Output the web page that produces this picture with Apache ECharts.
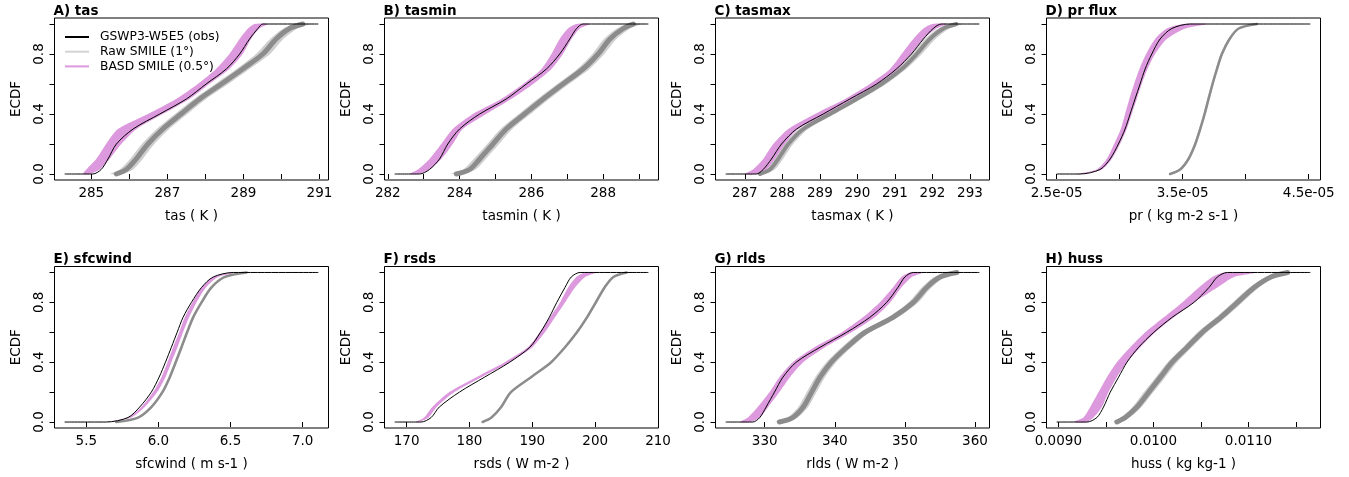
<!DOCTYPE html>
<html>
<head>
<meta charset="utf-8">
<title>ECDF panels</title>
<script src="https://cdn.jsdelivr.net/npm/echarts@6/dist/echarts.min.js"></script>
<style>
  html, body { margin: 0; padding: 0; background: #fff; }
  #main { width: 1349px; height: 477px; }
</style>
</head>
<body>
<div id="main"></div>
<script>
// ECDF levels shared by every curve (x values below are read at these levels)
var levels = [0, 0.03, 0.1, 0.2, 0.3, 0.4, 0.5, 0.6, 0.7, 0.8, 0.9, 0.97, 1];
var yTicks = [0, 0.2, 0.4, 0.6, 0.8, 1.0];
var yLabels = [0, 0.4, 0.8];

// A) tas
var tasRange = [284.3, 290.97];
var tasObs = [285.04, 285.26, 285.44, 285.66, 286.1, 286.8, 287.5, 288.02, 288.55, 288.9, 289.16, 289.38, 289.51];
var tasBasdLo = [284.78, 284.87, 285.13, 285.39, 285.7, 286.49, 287.23, 287.8, 288.28, 288.63, 288.9, 289.12, 289.29];
var tasBasdHi = [284.96, 285.22, 285.48, 285.79, 286.19, 286.88, 287.58, 288.1, 288.63, 288.98, 289.2, 289.42, 289.64];
var tasRawLo = [285.5, 285.75, 286.02, 286.33, 286.72, 287.2, 287.7, 288.26, 288.82, 289.33, 289.7, 290.05, 290.4];
var tasRawMid = [285.66, 285.92, 286.18, 286.49, 286.88, 287.36, 287.85, 288.42, 288.98, 289.51, 289.86, 290.21, 290.56];
var tasRawHi = [285.82, 286.1, 286.35, 286.66, 287.05, 287.53, 288.02, 288.6, 289.16, 289.7, 290.05, 290.42, 290.75];
var tasTicks = [285, 286, 287, 288, 289, 290, 291];
var tasLabels = [285, 287, 289, 291];

// B) tasmin
var tasminRange = [282.19, 289.26];
var tasminObs = [282.88, 283.16, 283.44, 283.67, 284.0, 284.56, 285.3, 285.86, 286.42, 286.79, 287.07, 287.26, 287.44];
var tasminBasdLo = [282.6, 282.84, 283.16, 283.49, 283.81, 284.37, 285.16, 285.77, 286.28, 286.56, 286.79, 287.02, 287.26];
var tasminBasdHi = [282.84, 283.16, 283.49, 283.81, 284.09, 284.74, 285.44, 286.05, 286.56, 286.88, 287.12, 287.35, 287.63];
var tasminRawLo = [283.75, 284.1, 284.39, 284.77, 285.14, 285.65, 286.17, 286.72, 287.28, 287.7, 288.02, 288.38, 288.68];
var tasminRawMid = [283.91, 284.28, 284.56, 284.93, 285.3, 285.81, 286.33, 286.88, 287.44, 287.86, 288.19, 288.56, 288.84];
var tasminRawHi = [284.08, 284.45, 284.73, 285.1, 285.47, 285.98, 286.5, 287.05, 287.62, 288.03, 288.37, 288.75, 289.05];
var tasminTicks = [282, 283, 284, 285, 286, 287, 288, 289];
var tasminLabels = [282, 284, 286, 288];

// C) tasmax
var tasmaxRange = [286.49, 293.25];
var tasmaxObs = [287.31, 287.49, 287.71, 287.98, 288.38, 289.09, 289.8, 290.51, 291.04, 291.44, 291.76, 292.02, 292.24];
var tasmaxBasdLo = [287.0, 287.22, 287.49, 287.76, 288.16, 288.87, 289.67, 290.33, 290.87, 291.18, 291.49, 291.76, 292.0];
var tasmaxBasdHi = [287.31, 287.58, 287.8, 288.07, 288.42, 289.18, 289.93, 290.6, 291.09, 291.44, 291.76, 292.11, 292.4];
var tasmaxRawLo = [287.28, 287.55, 287.77, 288.04, 288.44, 289.14, 289.85, 290.51, 291.05, 291.45, 291.8, 292.15, 292.5];
var tasmaxRawMid = [287.4, 287.67, 287.89, 288.16, 288.56, 289.27, 289.98, 290.64, 291.18, 291.58, 291.93, 292.29, 292.64];
var tasmaxRawHi = [287.52, 287.8, 288.02, 288.29, 288.69, 289.4, 290.1, 290.77, 291.3, 291.72, 292.08, 292.45, 292.8];
var tasmaxTicks = [287, 288, 289, 290, 291, 292, 293];
var tasmaxLabels = [287, 288, 289, 290, 291, 292, 293];

// D) pr flux (values in 1e-05 kg m-2 s-1)
var prRange = [2.5, 4.513];
var prObs = [2.685, 2.844, 2.924, 2.99, 3.043, 3.083, 3.122, 3.162, 3.202, 3.255, 3.321, 3.414, 3.56];
var prBasdLo = [2.66, 2.818, 2.897, 2.956, 3.009, 3.043, 3.077, 3.115, 3.157, 3.21, 3.281, 3.374, 3.507];
var prBasdHi = [2.70, 2.858, 2.937, 3.003, 3.056, 3.096, 3.136, 3.175, 3.221, 3.281, 3.374, 3.52, 3.692];
var prRawLo = [3.39, 3.47, 3.536, 3.59, 3.629, 3.664, 3.695, 3.727, 3.762, 3.801, 3.862, 3.932, 4.07];
var prRawMid = [3.40, 3.48, 3.546, 3.6, 3.639, 3.674, 3.705, 3.737, 3.772, 3.811, 3.872, 3.944, 4.089];
var prRawHi = [3.41, 3.49, 3.556, 3.61, 3.649, 3.684, 3.715, 3.747, 3.782, 3.821, 3.882, 3.956, 4.11];
var prTicks = [2.5, 3.0, 3.5, 4.0, 4.5];
var prLabels = [2.5, 3.5, 4.5];

// E) sfcwind
var windRange = [5.35, 7.109];
var windObs = [5.639, 5.789, 5.87, 5.951, 6.005, 6.049, 6.09, 6.13, 6.171, 6.229, 6.299, 6.38, 6.519];
var windBasdLo = [5.639, 5.789, 5.882, 5.963, 6.021, 6.063, 6.102, 6.144, 6.183, 6.236, 6.299, 6.38, 6.495];
var windBasdHi = [5.66, 5.812, 5.905, 5.991, 6.049, 6.09, 6.132, 6.171, 6.213, 6.264, 6.329, 6.414, 6.542];
var windRawLo = [5.70, 5.851, 5.943, 6.02, 6.071, 6.112, 6.152, 6.191, 6.233, 6.291, 6.36, 6.452, 6.6];
var windRawMid = [5.708, 5.859, 5.951, 6.028, 6.079, 6.12, 6.16, 6.199, 6.241, 6.299, 6.368, 6.461, 6.611];
var windRawHi = [5.716, 5.867, 5.959, 6.036, 6.087, 6.128, 6.168, 6.207, 6.249, 6.307, 6.376, 6.47, 6.622];
var windTicks = [5.5, 6.0, 6.5, 7.0];
var windLabels = [5.5, 6.0, 6.5, 7.0];

// F) rsds
var rsdsRange = [168.1, 208.46];
var rsdsObs = [172.3, 173.9, 175.2, 178.4, 182.4, 186.4, 189.6, 191.3, 192.7, 193.9, 195.2, 196.2, 197.6];
var rsdsBasdLo = [171.5, 172.8, 174.1, 176.8, 181.1, 185.6, 189.3, 191.2, 192.8, 194.4, 195.7, 197.0, 198.4];
var rsdsBasdHi = [172.0, 173.5, 174.8, 177.6, 181.9, 186.4, 190.0, 192.0, 193.6, 195.2, 196.8, 198.4, 200.2];
var rsdsRawLo = [181.9, 183.3, 184.85, 186.4, 189.6, 192.8, 195.0, 196.9, 198.5, 199.9, 201.3, 202.7, 204.8];
var rsdsRawMid = [182.1, 183.5, 185.05, 186.6, 189.8, 193.0, 195.2, 197.1, 198.7, 200.1, 201.5, 202.9, 205.0];
var rsdsRawHi = [182.3, 183.7, 185.25, 186.8, 190.0, 193.2, 195.4, 197.3, 198.9, 200.3, 201.7, 203.1, 205.2];
var rsdsTicks = [170, 180, 190, 200, 210];
var rsdsLabels = [170, 180, 190, 200, 210];

// G) rlds
var rldsRange = [324.43, 360.62];
var rldsObs = [328.3, 329.3, 330.2, 331.4, 332.6, 334.5, 337.9, 341.7, 345.0, 347.4, 349.0, 350.0, 351.2];
var rldsBasdLo = [326.5, 327.6, 329.0, 330.7, 332.1, 334.0, 337.1, 341.0, 344.0, 346.4, 348.3, 349.5, 350.7];
var rldsBasdHi = [328.0, 329.3, 330.5, 332.1, 333.6, 335.5, 338.6, 342.4, 345.7, 347.9, 349.5, 351.0, 352.6];
var rldsRawLo = [331.5, 333.3, 334.8, 336.0, 337.2, 338.8, 341.0, 343.6, 347.6, 350.5, 352.4, 354.2, 356.6];
var rldsRawMid = [332.1, 334.0, 335.5, 336.7, 337.9, 339.5, 341.7, 344.3, 348.3, 351.2, 353.1, 355.0, 357.4];
var rldsRawHi = [332.7, 334.7, 336.2, 337.4, 338.6, 340.2, 342.4, 345.0, 349.0, 351.9, 353.8, 355.8, 358.2];
var rldsTicks = [330, 340, 350, 360];
var rldsLabels = [330, 340, 350, 360];

// H) huss (values in 1e-03 kg kg-1)
var hussRange = [8.982, 11.651];
var hussObs = [9.30, 9.405, 9.475, 9.546, 9.634, 9.722, 9.845, 10.004, 10.197, 10.426, 10.585, 10.673, 10.778];
var hussBasdLo = [9.16, 9.264, 9.335, 9.423, 9.511, 9.616, 9.757, 9.915, 10.109, 10.303, 10.479, 10.62, 10.743];
var hussBasdHi = [9.30, 9.37, 9.458, 9.528, 9.616, 9.722, 9.863, 10.021, 10.215, 10.426, 10.673, 10.849, 11.095];
var hussRawLo = [9.58, 9.66, 9.78, 9.9, 10.025, 10.15, 10.31, 10.465, 10.66, 10.835, 11.01, 11.185, 11.36];
var hussRawMid = [9.616, 9.704, 9.827, 9.951, 10.074, 10.197, 10.356, 10.514, 10.708, 10.884, 11.06, 11.236, 11.412];
var hussRawHi = [9.65, 9.75, 9.875, 10.0, 10.125, 10.25, 10.405, 10.565, 10.76, 10.935, 11.11, 11.29, 11.47];
var hussTicks = [9.0, 9.5, 10.0, 10.5, 11.0, 11.5];
var hussLabels = [9.0, 10.0, 11.0];

var OBS = 'GSWP3-W5E5 (obs)';
var RAW = 'Raw SMILE (1\u00b0)';
var BASD = 'BASD SMILE (0.5\u00b0)';
var FONT = 'DejaVu Sans';

function intLabel(v) { return String(Math.round(v)); }
function oneDec(v) { return v.toFixed(1); }

var panels = [
  { title: 'A) tas', xname: 'tas ( K )', range: tasRange, obs: tasObs, bLo: tasBasdLo, bHi: tasBasdHi, rLo: tasRawLo, rMid: tasRawMid, rHi: tasRawHi, ticks: tasTicks, labels: tasLabels, fmt: intLabel, core: 5 },
  { title: 'B) tasmin', xname: 'tasmin ( K )', range: tasminRange, obs: tasminObs, bLo: tasminBasdLo, bHi: tasminBasdHi, rLo: tasminRawLo, rMid: tasminRawMid, rHi: tasminRawHi, ticks: tasminTicks, labels: tasminLabels, fmt: intLabel, core: 5 },
  { title: 'C) tasmax', xname: 'tasmax ( K )', range: tasmaxRange, obs: tasmaxObs, bLo: tasmaxBasdLo, bHi: tasmaxBasdHi, rLo: tasmaxRawLo, rMid: tasmaxRawMid, rHi: tasmaxRawHi, ticks: tasmaxTicks, labels: tasmaxLabels, fmt: intLabel, core: 4 },
  { title: 'D) pr flux', xname: 'pr ( kg m-2 s-1 )', range: prRange, obs: prObs, bLo: prBasdLo, bHi: prBasdHi, rLo: prRawLo, rMid: prRawMid, rHi: prRawHi, ticks: prTicks, labels: prLabels, fmt: function (v) { return v.toFixed(1) + 'e-05'; }, core: 2.5 },
  { title: 'E) sfcwind', xname: 'sfcwind ( m s-1 )', range: windRange, obs: windObs, bLo: windBasdLo, bHi: windBasdHi, rLo: windRawLo, rMid: windRawMid, rHi: windRawHi, ticks: windTicks, labels: windLabels, fmt: oneDec, core: 2.5 },
  { title: 'F) rsds', xname: 'rsds ( W m-2 )', range: rsdsRange, obs: rsdsObs, bLo: rsdsBasdLo, bHi: rsdsBasdHi, rLo: rsdsRawLo, rMid: rsdsRawMid, rHi: rsdsRawHi, ticks: rsdsTicks, labels: rsdsLabels, fmt: intLabel, core: 2.5 },
  { title: 'G) rlds', xname: 'rlds ( W m-2 )', range: rldsRange, obs: rldsObs, bLo: rldsBasdLo, bHi: rldsBasdHi, rLo: rldsRawLo, rMid: rldsRawMid, rHi: rldsRawHi, ticks: rldsTicks, labels: rldsLabels, fmt: intLabel, core: 5 },
  { title: 'H) huss', xname: 'huss ( kg kg-1 )', range: hussRange, obs: hussObs, bLo: hussBasdLo, bHi: hussBasdHi, rLo: hussRawLo, rMid: hussRawMid, rHi: hussRawHi, ticks: hussTicks, labels: hussLabels, fmt: function (v) { return (v / 1000).toFixed(4); }, core: 5 }
];

// plot box layout
var colLeft = [54.5, 384.5, 715.5, 1046.5];
var colWidth = 274;
var rowTop = [18, 266.5];
var rowHeight = [162, 161.5];

var option = {
  animation: false,
  backgroundColor: '#fff',
  textStyle: { fontFamily: FONT },
  title: [], grid: [], xAxis: [], yAxis: [], series: [],
  legend: {
    orient: 'vertical', left: 65, top: 31, padding: 0,
    itemWidth: 24, itemHeight: 2, itemGap: 2.7,
    selectedMode: false,
    textStyle: { fontSize: 12.3, color: '#000', fontFamily: FONT, lineHeight: 12, padding: [0, 0, 0, 6] },
    data: [
      { name: OBS, icon: 'rect', itemStyle: { color: '#000' } },
      { name: RAW, icon: 'rect', itemStyle: { color: '#d3d3d3' } },
      { name: BASD, icon: 'rect', itemStyle: { color: '#dd99dd' } }
    ]
  }
};

function bandSeries(i, lo, hi, color, name) {
  return {
    type: 'custom', name: name, xAxisIndex: i, yAxisIndex: i, silent: true,
    data: [[lo[0], 0]],
    renderItem: function (params, api) {
      var pts = [];
      for (var k = 0; k < levels.length; k++) pts.push(api.coord([lo[k], levels[k]]));
      for (var j = levels.length - 1; j >= 0; j--) pts.push(api.coord([hi[j], levels[j]]));
      return { type: 'polygon', shape: { points: pts, smooth: 0.25 }, style: { fill: color } };
    }
  };
}

function curve(xs, range) {
  var d = [];
  if (range) d.push([range[0], 0]);
  for (var k = 0; k < levels.length; k++) d.push([xs[k], levels[k]]);
  if (range) d.push([range[1], 1]);
  return d;
}

panels.forEach(function (p, i) {
  var col = i % 4, row = Math.floor(i / 4);
  var span = p.range[1] - p.range[0];
  option.grid.push({
    left: colLeft[col], top: rowTop[row], width: colWidth, height: rowHeight[row],
    show: true, borderColor: '#000', borderWidth: 1, backgroundColor: 'transparent'
  });
  option.title.push({
    text: p.title, left: colLeft[col] - 1, top: rowTop[row] - 14, padding: 0,
    textStyle: { fontSize: 13.5, fontWeight: 'bold', color: '#000', fontFamily: FONT }
  });
  option.xAxis.push({
    type: 'value', gridIndex: i,
    min: p.range[0] - 0.04 * span, max: p.range[1] + 0.04 * span,
    axisLine: { show: false }, splitLine: { show: false },
    axisTick: { show: true, length: 5, customValues: p.ticks, lineStyle: { color: '#000' } },
    axisLabel: { customValues: p.labels, formatter: p.fmt, color: '#000', fontSize: 13.5, margin: 6, fontFamily: FONT },
    name: p.xname, nameLocation: 'middle', nameGap: 29,
    nameTextStyle: { fontSize: 13.5, color: '#000', fontFamily: FONT }
  });
  option.yAxis.push({
    type: 'value', gridIndex: i, min: -0.04, max: 1.04,
    axisLine: { show: false }, splitLine: { show: false },
    axisTick: { show: true, length: 5, customValues: yTicks, lineStyle: { color: '#000' } },
    axisLabel: { customValues: yLabels, formatter: oneDec, rotate: 90, color: '#000', fontSize: 13.5, margin: 8, fontFamily: FONT },
    name: 'ECDF', nameLocation: 'middle', nameGap: 31, nameRotate: 90,
    nameTextStyle: { fontSize: 13.5, color: '#000', fontFamily: FONT }
  });
  option.series.push(bandSeries(i, p.rLo, p.rHi, '#cfcfcf', RAW));
  option.series.push({
    type: 'line', name: RAW, xAxisIndex: i, yAxisIndex: i, data: curve(p.rMid),
    showSymbol: false, smooth: 0.3, silent: true,
    lineStyle: { color: '#8c8c8c', width: p.core, cap: 'round' }, itemStyle: { color: '#d3d3d3' }
  });
  option.series.push(bandSeries(i, p.bLo, p.bHi, '#dd99dd', BASD));
  option.series.push({
    type: 'line', name: OBS, xAxisIndex: i, yAxisIndex: i, data: curve(p.obs, p.range),
    showSymbol: false, smooth: 0.3, silent: true,
    lineStyle: { color: '#000', width: 1 }, itemStyle: { color: '#000' }
  });
});

var chart = echarts.init(document.getElementById('main'));
chart.setOption(option);
</script>
</body>
</html>
